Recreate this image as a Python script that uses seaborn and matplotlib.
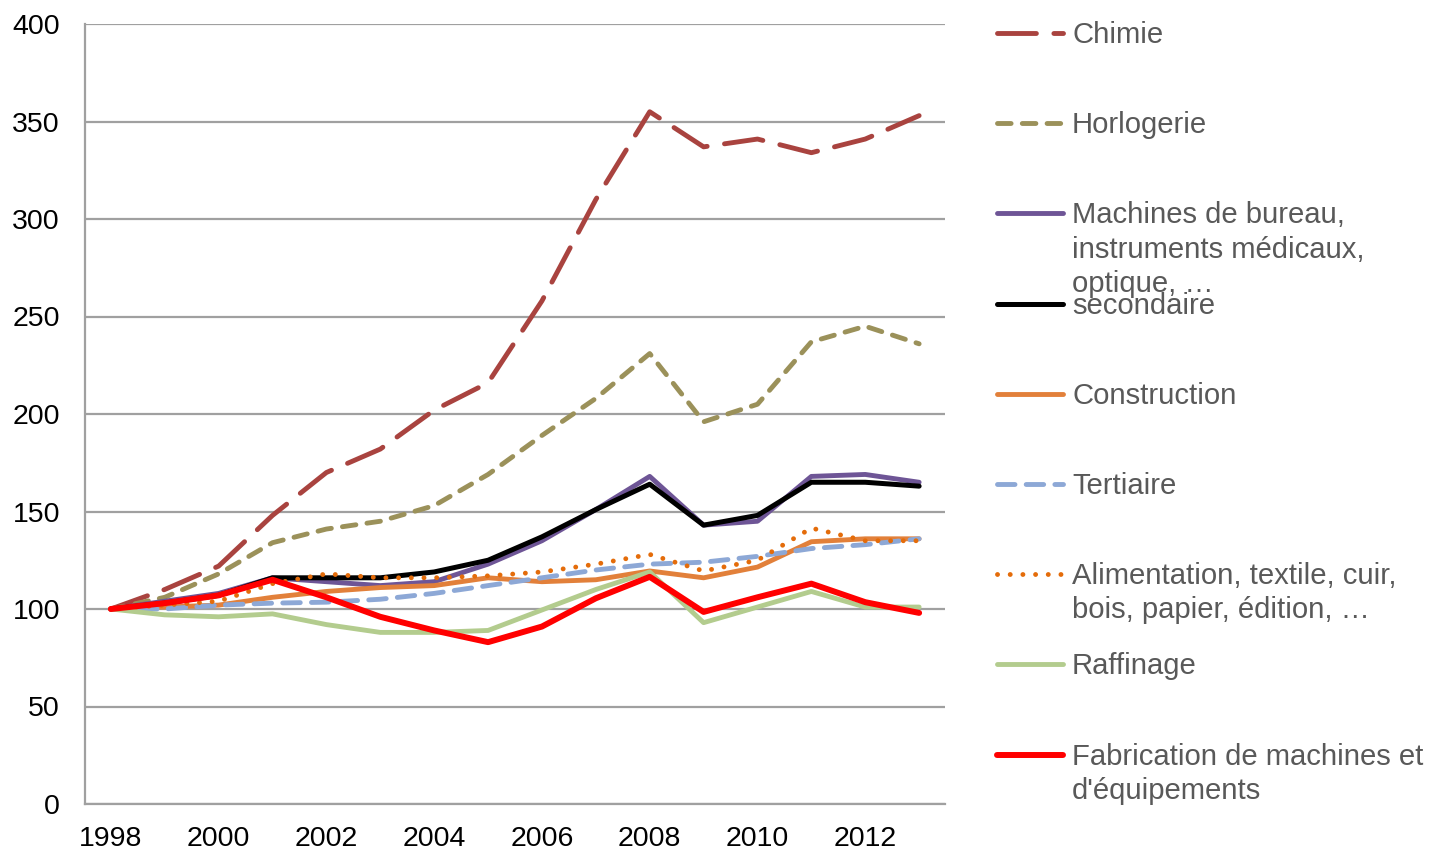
import numpy as np
import pandas as pd
import matplotlib
matplotlib.use("Agg")
import matplotlib.pyplot as plt
import seaborn as sns
from matplotlib.lines import Line2D

# data (index, 1998 = 100)
years = list(range(1998, 2014))
chimie = [100, 110, 122, 148, 170, 182, 202, 216, 258, 310, 355, 337, 341, 334, 341, 353]
horlogerie = [100, 106, 118, 134, 141, 145, 153, 169, 189, 208, 231, 196, 205, 237, 245, 236]
machines_bureau = [100, 104, 108, 116, 114, 112, 114, 123, 135, 151, 168, 143, 145, 168, 169, 165]
secondaire = [100, 103, 107, 116, 116, 116, 119, 125, 137, 151, 164, 143, 148, 165, 165, 163]
construction = [100, 101, 102, 106, 109, 111, 112, 116, 114, 115, 119.5, 116, 121.5, 134.5, 136, 136]
tertiaire = [100, 100, 102, 103, 103.5, 105, 108, 112, 116, 120, 123, 124, 127, 131, 133, 136]
alimentation = [100, 102, 104, 113, 118, 116, 116, 117, 119, 123, 128, 119.5, 125, 141.5, 135, 135]
raffinage = [100, 97, 96, 97.5, 92, 88, 88, 89, 99.5, 110, 119, 93, 101, 109, 101, 101]
fabrication = [100, 103, 107, 115, 106, 96, 89, 83, 91, 105.5, 116.5, 98.5, 106, 113, 103.5, 98]

labels = ["Chimie", "Horlogerie",
          "Machines de bureau,\ninstruments médicaux,\noptique, …",
          "secondaire", "Construction", "Tertiaire",
          "Alimentation, textile, cuir,\nbois, papier, édition, …",
          "Raffinage", "Fabrication de machines et\nd'équipements"]
series = [chimie, horlogerie, machines_bureau, secondaire, construction,
          tertiaire, alimentation, raffinage, fabrication]
colors = ["#A9433F", "#9B915A", "#6E5596", "#000000", "#E2803A",
          "#8DA8D6", "#E46C0A", "#B3CC8E", "#FF0000"]
styles = [(0, (8, 3.6)), (0, (2.8, 2.3)), "-", "-", "-",
          (0, (3.6, 2.3)), (0, (0.01, 2.6)), "-", "-"]
widths = [3.5, 3.5, 3.5, 3.6, 3.5, 3.5, 3.5, 3.5, 4.3]

sns.set_style("white")
plt.rcParams['font.family'] = ['Liberation Sans', 'DejaVu Sans']

fig = plt.figure(figsize=(14.3, 8.52), dpi=100)
ax = fig.add_axes([85 / 1430, 1 - 804 / 852, 860 / 1430, 780 / 852])

for lab, vals, c, ls, lw in zip(labels, series, colors, styles, widths):
    sns.lineplot(x=years, y=vals, ax=ax, color=c, linestyle=ls, linewidth=lw,
                 dash_capstyle="round", solid_capstyle="round",
                 solid_joinstyle="round", label=None, legend=False)

ax.set_xlim(1997.52, 2013.48)
ax.set_ylim(0, 400)
ax.set_yticks(np.arange(0, 401, 50))
ax.set_xticks(range(1998, 2013, 2))
ax.yaxis.grid(True, color="#A0A0A0", linewidth=1.6)
ax.set_axisbelow(True)
ax.tick_params(axis="both", length=0, labelsize=20.5, labelcolor="black")
ax.tick_params(axis="y", pad=18)
ax.tick_params(axis="x", pad=16)
for side in ["top", "right"]:
    ax.spines[side].set_visible(False)
for side in ["left", "bottom"]:
    ax.spines[side].set_color("#A0A0A0")
    ax.spines[side].set_linewidth(1.6)
ax.set_xlabel("")
ax.set_ylabel("")

# hand-placed legend with fixed spacing, as in the original
for i, (lab, c, ls, lw) in enumerate(zip(labels, colors, styles, widths)):
    ypx = 33 + i * 90.2
    yf = 1 - ypx / 852
    fig.add_artist(Line2D([997 / 1430, 1063 / 1430], [yf, yf], color=c,
                          linestyle=ls, linewidth=lw, dash_capstyle="round",
                          solid_capstyle="round"))
    fig.text(1072 / 1430, 1 - (ypx - 12) / 852, lab, fontsize=21.1,
             color="#595959", va="top", ha="left", linespacing=1.28)

fig.savefig("out.png", dpi=100)
